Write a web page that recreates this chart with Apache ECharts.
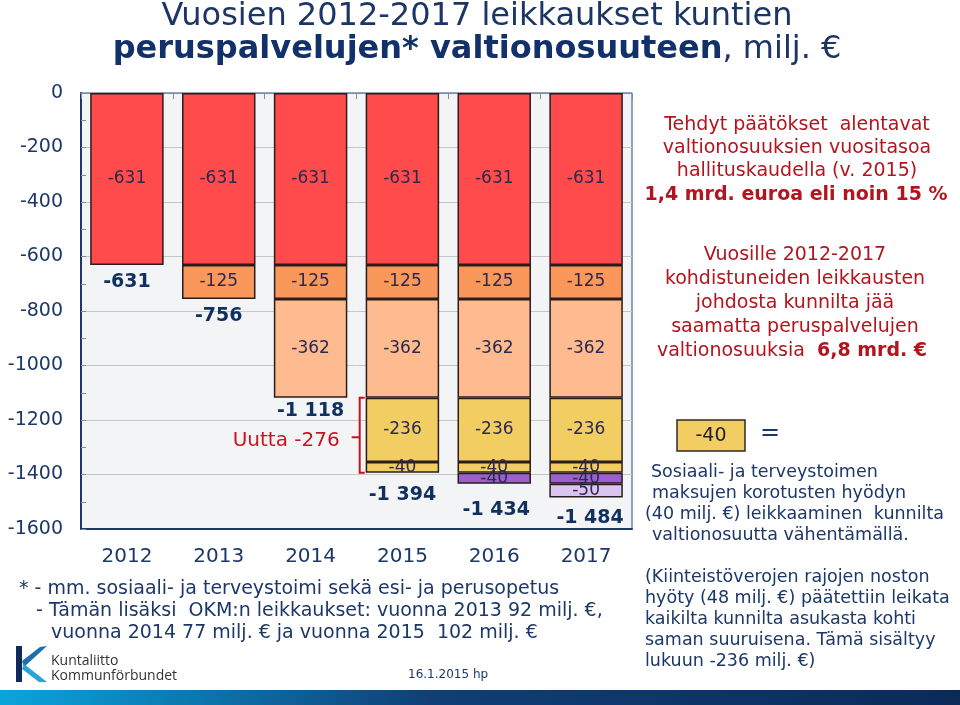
<!DOCTYPE html>
<html><head><meta charset="utf-8">
<script src="https://cdn.jsdelivr.net/npm/echarts@6/dist/echarts.min.js"></script>
<style>html,body{margin:0;padding:0;background:#fff}#c{width:960px;height:705px}</style>
</head><body><div id="c"></div>
<script>
// ---- data ----
const years = ['2012', '2013', '2014', '2015', '2016', '2017'];
const cutBase = [-631, -631, -631, -631, -631, -631];
const cut2013 = [null, -125, -125, -125, -125, -125];
const cut2014 = [null, null, -362, -362, -362, -362];
const cut2015 = [null, null, null, -236, -236, -236];
const feeCut2015 = [null, null, null, -40, -40, -40];
const feeCut2016 = [null, null, null, null, -40, -40];
const feeCut2017 = [null, null, null, null, null, -50];
const totals = [-631, -756, -1118, -1394, -1434, -1484];
const yMin = -1600, yMax = 0, yStep = 200;
const newCutFrom = -1118, newCutTo = -1394, newCutLabel = 'Uutta -276', newCutYear = '2015';

// ---- styles ----
const NAVY = '#1c3868';
const RED = '#b3141d';
const totalNudge = [7, 7, 3, 12, 16, 11];
const totalShift = [0, 0, 0, 0, 2, 4];

function fmtTotal(v) {
  const s = Math.abs(v).toString().replace(/\B(?=(\d{3})+(?!\d))/g, ' ');
  return (v < 0 ? '-' : '') + s;
}

function barSeries(name, data, color) {
  return {
    name, type: 'bar', stack: 'total', data,
    barCategoryGap: '20%',
    itemStyle: { color, borderColor: '#2a1c1c', borderWidth: 1.5 },
    label: {
      show: true, position: 'inside', formatter: p => p.value,
      fontFamily: 'DejaVu Sans', fontSize: 17, color: '#2b2950'
    },
    emphasis: { disabled: true }
  };
}

const chart = echarts.init(document.getElementById('c'), null, { renderer: 'canvas' });

const option = {
  animation: false,
  backgroundColor: '#ffffff',
  grid: {
    left: 81, right: 328, top: 93, bottom: 176, show: true,
    backgroundColor: '#f3f4f6', borderColor: '#2a4a7a', borderWidth: 1
  },
  xAxis: [
    {
      type: 'category', data: years, position: 'bottom',
      axisLine: { show: true, onZero: false, lineStyle: { color: NAVY, width: 2 } },
      axisTick: { show: false },
      axisLabel: { fontFamily: 'DejaVu Sans', fontSize: 20, color: NAVY, margin: 18 }
    },
    {
      type: 'category', data: years, position: 'top',
      axisLine: { show: true, onZero: false, lineStyle: { color: '#7d8fa8', width: 1 } },
      axisTick: { show: true, inside: true, length: 6, lineStyle: { color: '#8a8a8a' } },
      axisLabel: { show: false }
    }
  ],
  yAxis: {
    type: 'value', min: yMin, max: yMax, interval: yStep,
    axisLine: { show: true, lineStyle: { color: NAVY, width: 2 } },
    axisTick: { show: true, inside: true, length: 5, lineStyle: { color: '#8a8a8a' } },
    minorTick: { show: true, splitNumber: 2, length: 5, lineStyle: { color: '#8a8a8a' } },
    splitLine: { show: true, lineStyle: { color: '#c6c6c6', width: 1 } },
    axisLabel: { fontFamily: 'DejaVu Sans', fontSize: 19, color: NAVY, margin: 18, formatter: v => String(v) }
  },
  series: [
    barSeries('base', cutBase, '#ff4b4b'),
    barSeries('2013', cut2013, '#fa975a'),
    barSeries('2014', cut2014, '#fdbb8f'),
    barSeries('2015', cut2015, '#f2cd62'),
    barSeries('fee2015', feeCut2015, '#f2cd62'),
    barSeries('fee2016', feeCut2016, '#9b60cc'),
    barSeries('fee2017', feeCut2017, '#dac5ef'),
    {
      name: 'totals', type: 'scatter', symbolSize: 1, silent: true, z: 10,
      itemStyle: { color: 'rgba(0,0,0,0)', opacity: 1 },
      data: totals.map((v, i) => ({ value: v, label: { distance: totalNudge[i], offset: [totalShift[i], 0] } })),
      label: {
        show: true, position: 'bottom', formatter: p => fmtTotal(p.value), opacity: 1,
        fontFamily: 'DejaVu Sans', fontWeight: 'bold', fontSize: 19, color: '#10305f'
      }
    }
  ]
};
chart.setOption(option);

// ---- annotations ----
const yT = chart.convertToPixel({ yAxisIndex: 0 }, newCutFrom);
const yB = chart.convertToPixel({ yAxisIndex: 0 }, newCutTo);
const idx = years.indexOf(newCutYear);
const xC = chart.convertToPixel({ xAxisIndex: 0 }, years[idx]);
const cw = chart.convertToPixel({ xAxisIndex: 0 }, years[idx + 1]) - xC;
const bx = xC - 0.4 * cw - 6;
const ym = (yT + yB) / 2;

function txt(text, x, y, font, fill, align) {
  return { type: 'text', silent: true, style: { text, x, y, font, fill, align: align || 'left', verticalAlign: 'middle' } };
}
function rich(text, x, y, richDef, fill, align) {
  return { type: 'text', silent: true, style: { text, x, y, rich: richDef, fill, align: align || 'center', verticalAlign: 'middle' } };
}

const redFont = '19px "DejaVu Sans"';
const redRich = {
  n: { font: '19px "DejaVu Sans"', fill: RED },
  b: { font: 'bold 19px "DejaVu Sans"', fill: RED }
};
const blueFont = '17.5px "DejaVu Sans"';
const botFont = '19px "DejaVu Sans"';
const titleFont = '32px "DejaVu Sans"';
const titleBold = 'bold 32px "DejaVu Sans"';

const graphics = [
  // title
  txt('Vuosien 2012-2017 leikkaukset kuntien', 477, 17, titleFont, '#1b3566', 'center'),
  rich('{b|peruspalvelujen* valtionosuuteen}{n|, milj. €}', 477, 50, {
    b: { font: titleBold, fill: '#12306a' },
    n: { font: titleFont, fill: '#1b3566' }
  }, '#1b3566', 'center'),
  // red notes
  txt('Tehdyt päätökset  alentavat', 797, 125, redFont, RED, 'center'),
  txt('valtionosuuksien vuositasoa', 797, 148, redFont, RED, 'center'),
  txt('hallituskaudella (v. 2015)', 797, 171, redFont, RED, 'center'),
  rich('{b|1,4 mrd. euroa eli noin 15 %}', 796, 195, redRich, RED, 'center'),
  txt('Vuosille 2012-2017', 795, 255, redFont, RED, 'center'),
  txt('kohdistuneiden leikkausten', 795, 279, redFont, RED, 'center'),
  txt('johdosta kunnilta jää', 795, 303, redFont, RED, 'center'),
  txt('saamatta peruspalvelujen', 795, 327, redFont, RED, 'center'),
  rich('{n|valtionosuuksia  }{b|6,8 mrd. €}', 792, 351, redRich, RED, 'center'),
  // -40 legend box
  { type: 'rect', silent: true, shape: { x: 677, y: 420, width: 68, height: 31 }, style: { fill: '#f2cd62', stroke: '#2a2a2a', lineWidth: 1.5 } },
  txt('-40', 711, 436, '19px "DejaVu Sans"', '#222222', 'center'),
  txt('=', 770, 434, '24px "DejaVu Sans"', NAVY, 'center'),
  txt('Sosiaali- ja terveystoimen', 651, 472, blueFont, NAVY),
  txt('maksujen korotusten hyödyn', 652, 493, blueFont, NAVY),
  txt('(40 milj. €) leikkaaminen  kunnilta', 645, 514, blueFont, NAVY),
  txt('valtionosuutta vähentämällä.', 652, 535, blueFont, NAVY),
  txt('(Kiinteistöverojen rajojen noston', 645, 577, blueFont, NAVY),
  txt('hyöty (48 milj. €) päätettiin leikata', 645, 598, blueFont, NAVY),
  txt('kaikilta kunnilta asukasta kohti', 645, 619, blueFont, NAVY),
  txt('saman suuruisena. Tämä sisältyy', 645, 640, blueFont, NAVY),
  txt('lukuun -236 milj. €)', 645, 661, blueFont, NAVY),
  // footnote
  txt('* - mm. sosiaali- ja terveystoimi sekä esi- ja perusopetus', 19, 589, botFont, NAVY),
  txt('- Tämän lisäksi  OKM:n leikkaukset: vuonna 2013 92 milj. €,', 36, 611, botFont, NAVY),
  txt('vuonna 2014 77 milj. € ja vuonna 2015  102 milj. €', 51, 633, botFont, NAVY),
  // bracket
  { type: 'polyline', silent: true, shape: { points: [[bx + 5, yT], [bx, yT], [bx, yB], [bx + 5, yB]] }, style: { stroke: '#c0121c', lineWidth: 2, fill: null } },
  { type: 'line', silent: true, shape: { x1: bx - 8, y1: ym + 2, x2: bx, y2: ym + 2 }, style: { stroke: '#c0121c', lineWidth: 2 } },
  txt(newCutLabel, bx - 20, ym + 6, '20px "DejaVu Sans"', '#cc1220', 'right'),
  // logo
  { type: 'rect', silent: true, shape: { x: 16, y: 646, width: 6, height: 36 }, style: { fill: '#0e2a5c' } },
  { type: 'polygon', silent: true, shape: { points: [[22, 661], [40, 647], [47, 646], [24, 667]] }, style: { fill: '#1f6fb0' } },
  { type: 'polygon', silent: true, shape: { points: [[24, 664], [47, 682], [39, 682], [22, 669]] }, style: { fill: '#2aa3da' } },
  txt('Kuntaliitto', 51, 661, '14px "Open Sans"', '#333333'),
  txt('Kommunförbundet', 51, 676, '14px "Open Sans"', '#333333'),
  txt('16.1.2015 hp', 408, 675, '12px "DejaVu Sans"', NAVY),
  // bottom band
  { type: 'rect', silent: true, shape: { x: 0, y: 690, width: 960, height: 15 },
    style: { fill: new echarts.graphic.LinearGradient(0, 0, 1, 0, [
      { offset: 0, color: '#0aa5dc' }, { offset: 0.45, color: '#0f3f76' }, { offset: 1, color: '#0b2a5a' }]) } }
];
chart.setOption({ graphic: graphics });
</script>
</body></html>
